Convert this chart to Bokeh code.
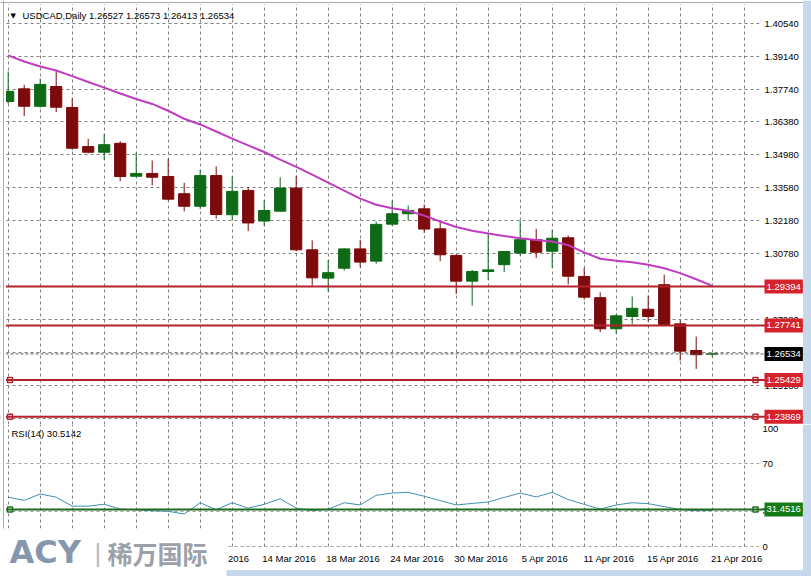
from bokeh.plotting import figure
from bokeh.models import (Range1d, FixedTicker, PrintfTickFormatter, Span, Label,
                          ColumnDataSource, LinearAxis, BoxAnnotation, Grid)
from bokeh.layouts import column
from bokeh.embed import file_html
from bokeh.resources import INLINE

# ---------------- data ----------------
symbol = "USDCAD,Daily"
last_bar_text = ["1.26527", "1.26573", "1.26413", "1.26534"]

dates = ["19 Feb 2016", "22 Feb 2016", "23 Feb 2016", "24 Feb 2016", "25 Feb 2016",
         "26 Feb 2016", "29 Feb 2016", "1 Mar 2016", "2 Mar 2016", "3 Mar 2016",
         "4 Mar 2016", "7 Mar 2016", "8 Mar 2016", "9 Mar 2016", "10 Mar 2016",
         "11 Mar 2016", "14 Mar 2016", "15 Mar 2016", "16 Mar 2016", "17 Mar 2016",
         "18 Mar 2016", "21 Mar 2016", "22 Mar 2016", "23 Mar 2016", "24 Mar 2016",
         "25 Mar 2016", "28 Mar 2016", "29 Mar 2016", "30 Mar 2016", "31 Mar 2016",
         "1 Apr 2016", "4 Apr 2016", "5 Apr 2016", "6 Apr 2016", "7 Apr 2016",
         "8 Apr 2016", "11 Apr 2016", "12 Apr 2016", "13 Apr 2016", "14 Apr 2016",
         "15 Apr 2016", "18 Apr 2016", "19 Apr 2016", "20 Apr 2016", "21 Apr 2016"]

opens = [1.3724, 1.3778, 1.3704, 1.3788, 1.3699, 1.3533, 1.3509, 1.3547, 1.3407, 1.3419,
         1.3406, 1.3333, 1.3280, 1.3410, 1.3244, 1.3347, 1.3217, 1.3259, 1.3357, 1.3095,
         1.2975, 1.3017, 1.3099, 1.3047, 1.3204, 1.3248, 1.3269, 1.3184, 1.3071, 1.2962,
         1.3003, 1.3032, 1.3081, 1.3138, 1.3089, 1.3146, 1.2982, 1.2892, 1.2760, 1.2812,
         1.2843, 1.2947, 1.2781, 1.2668, 1.26527]
highs = [1.3852, 1.3795, 1.3821, 1.3856, 1.3738, 1.3566, 1.3587, 1.3556, 1.3507, 1.3474,
         1.3481, 1.3379, 1.3435, 1.3449, 1.3406, 1.3361, 1.3307, 1.3403, 1.3410, 1.3135,
         1.3053, 1.3102, 1.3138, 1.3215, 1.3304, 1.3283, 1.3287, 1.3215, 1.3076, 1.3010,
         1.3162, 1.3090, 1.3219, 1.3184, 1.3180, 1.3156, 1.3019, 1.2915, 1.2824, 1.2897,
         1.2901, 1.2990, 1.2795, 1.2727, 1.26573]
lows = [1.3716, 1.3662, 1.3698, 1.3679, 1.3519, 1.3504, 1.3477, 1.3386, 1.3403, 1.3368,
        1.3304, 1.3258, 1.3269, 1.3227, 1.3222, 1.3175, 1.3198, 1.3257, 1.3089, 1.2942,
        1.2918, 1.3007, 1.3021, 1.3036, 1.3198, 1.3219, 1.3167, 1.3047, 1.2908, 1.2858,
        1.2967, 1.3000, 1.3071, 1.3060, 1.3019, 1.2948, 1.2883, 1.2746, 1.2739, 1.2778,
        1.2791, 1.2774, 1.2625, 1.2590, 1.26413]
closes = [1.3767, 1.3704, 1.3797, 1.3700, 1.3526, 1.3509, 1.3541, 1.3406, 1.3419, 1.3403,
          1.3310, 1.3280, 1.3410, 1.3245, 1.3343, 1.3209, 1.3262, 1.3357, 1.3095, 1.2976,
          1.2998, 1.3099, 1.3043, 1.3203, 1.3248, 1.3262, 1.3183, 1.3074, 1.2962, 1.3003,
          1.3010, 1.3088, 1.3138, 1.3085, 1.3144, 1.2983, 1.2894, 1.2760, 1.2815, 1.2847,
          1.2812, 1.2778, 1.2665, 1.2650, 1.26534]
ma = [1.3920, 1.3894, 1.3873, 1.3856, 1.3832, 1.3807, 1.3783, 1.3758, 1.3735, 1.3714,
      1.3685, 1.3651, 1.3627, 1.3597, 1.3567, 1.3538, 1.3510, 1.3478, 1.3447, 1.3414,
      1.3380, 1.3346, 1.3312, 1.3286, 1.3271, 1.3261, 1.3240, 1.3215, 1.3192, 1.3176,
      1.3164, 1.3154, 1.3144, 1.3137, 1.3130, 1.3115, 1.3084, 1.3057, 1.3049, 1.3042,
      1.3032, 1.3017, 1.2996, 1.2970, 1.2942]
rsi = [41.8, 39.1, 44.5, 41.8, 34.2, 34.2, 35.8, 31.7, 31.1, 30.3,
       29.8, 27.6, 37.1, 31.1, 37.1, 32.5, 35.8, 40.4, 32.5, 30.3,
       31.7, 37.1, 35.2, 43.4, 45.3, 45.9, 42.6, 38.9, 35.2, 36.5,
       37.7, 41.6, 45.3, 42.0, 45.9, 39.8, 35.7, 31.7, 35.2, 37.1,
       36.3, 33.8, 31.4, 30.3, 30.5142]
rsi_period = 14

price_ticks = [1.40540, 1.39140, 1.37740, 1.36380, 1.34980, 1.33580, 1.32180, 1.30780,
               1.29380, 1.27980, 1.26580, 1.25180, 1.23780]
rsi_ticks = [0, 30, 70, 100]
rsi_grid_levels = [0, 30, 70]
plain_levels = [1.29394, 1.27741]
marked_levels = [1.25429, 1.23869]
bid_price = 1.26534
rsi_level = 31.4516

# ---------------- layout / style ----------------
FONT = "Liberation Sans"
FS = "9.5px"
BULL = "#0e6a16"
BEAR = "#7d0b0b"
LEVEL_RED = "#b3232b"
BOX_RED = "#d4232b"
MA_COL = "#c03cc0"
RSI_COL = "#3f8fb5"
LEVEL_GREEN = "#1d6b1d"
BOX_GREEN = "#167a16"
GRID_COL = "#808080"
FRAME_COL = "#a3abb6"
WIN_BLUE = "#c6d9ec"

W = 811
MAIN_H = 424
RSI_H = 152
BAR_PX = 16.0
X_ORIGIN = 7.7          # pixel of the first bar centre
PX_PER_PRICE = 2357.0
PRICE_REF, PRICE_REF_PX = 1.29394, 286.0
RSI_PXU = 1.18
RSI_ZERO_PX = 546.0     # page pixel of RSI 0
LABEL_SHIFT = 1.55


def sx(px):  # picture pixel -> bar coordinate (annotation placement)
    return (px - X_ORIGIN) / BAR_PX


def sp(py):  # picture pixel -> price coordinate
    return PRICE_REF - (py - PRICE_REF_PX) / PX_PER_PRICE


def sr(py):  # picture pixel -> RSI coordinate
    return (RSI_ZERO_PX - py) / RSI_PXU


X0, X1 = sx(0), sx(W)

HAS_PAD = "padding" in Label.properties()


def box_label(fig, y, text, color):
    kw = dict(x=sx(764), y=y, text=text, text_color="white", text_font=FONT,
              text_font_size=FS, text_align="left", text_baseline="middle",
              background_fill_color=color, background_fill_alpha=1.0, level="overlay")
    if HAS_PAD:
        kw["padding"] = (2, 4)
    fig.add_layout(Label(**kw))


def style_axis(ax, standoff):
    ax.axis_line_color = None
    ax.major_tick_line_color = None
    ax.minor_tick_line_color = None
    ax.major_tick_out = 0
    ax.major_tick_in = 0
    ax.major_label_standoff = standoff
    ax.major_label_text_font = FONT
    ax.major_label_text_font_size = FS
    ax.major_label_text_color = "black"


idx = list(range(len(dates)))
grid_idx = list(range(0, len(dates) + 2, 2))
label_idx = list(range(0, len(dates), 4))

# ---------------- main price panel ----------------
p = figure(width=W, height=MAIN_H, x_range=Range1d(X0, X1),
           y_range=Range1d(sp(MAIN_H), sp(0)), output_backend="svg", toolbar_location=None,
           title=None, x_axis_location=None, y_axis_location="right",
           min_border_left=0, min_border_right=0, min_border_top=0, min_border_bottom=0,
           background_fill_color="white", border_fill_color="white", outline_line_color=None)
p.grid.visible = False
p.add_layout(Grid(dimension=0, ticker=FixedTicker(ticks=grid_idx), grid_line_color=GRID_COL,
                  grid_line_dash="3 3", grid_line_width=1))
p.add_layout(Grid(dimension=1, ticker=FixedTicker(ticks=price_ticks), grid_line_color=GRID_COL,
                  grid_line_dash="3 3", grid_line_width=1))
p.add_layout(BoxAnnotation(left=sx(759), fill_color="white", fill_alpha=1.0, line_color=None,
                           level="underlay"))

ya = p.yaxis[0]
ya.ticker = FixedTicker(ticks=price_ticks)
ya.formatter = PrintfTickFormatter(format="%.5f")
ya.fixed_location = sx(758)
style_axis(ya, 6)

src = ColumnDataSource(dict(
    x=idx, high=highs, low=lows,
    top=[max(o, c) for o, c in zip(opens, closes)],
    bottom=[min(o, c) for o, c in zip(opens, closes)],
    color=[BULL if c >= o else BEAR for o, c in zip(opens, closes)],
))
p.segment(x0="x", y0="high", x1="x", y1="low", line_color="color", line_width=1, source=src)
p.vbar(x="x", width=0.7, top="top", bottom="bottom", fill_color="color",
       line_color="color", line_width=1, source=src)
p.line(idx, ma, line_color=MA_COL, line_width=2)

for lv in plain_levels + marked_levels:
    p.add_layout(Span(location=lv, dimension="width", line_color=LEVEL_RED, line_width=2))
p.add_layout(Span(location=bid_price, dimension="width", line_color="#5a5a5a",
                  line_dash="3 2", line_width=1))
mx, my = [], []
for lv in marked_levels:
    mx += [sx(9.5), sx(755)]
    my += [lv, lv]
p.scatter(mx, my, marker="square", size=5, fill_color="white", line_color=LEVEL_RED,
          line_width=1.5)

# window edges
p.add_layout(BoxAnnotation(right=sx(5.5), fill_color="white", fill_alpha=1.0, line_color=None))
p.add_layout(BoxAnnotation(bottom=sp(3.5), fill_color="white", fill_alpha=1.0, line_color=None))
p.add_layout(Span(location=sx(3), dimension="height", line_color=FRAME_COL, line_width=1))
p.add_layout(Span(location=sp(2), dimension="width", line_color=FRAME_COL, line_width=1))

for lv in plain_levels + marked_levels:
    box_label(p, lv, f"{lv:.5f}", BOX_RED)
box_label(p, bid_price, f"{bid_price:.5f}", "black")

p.add_layout(Label(x=sx(10), y=sp(15), text="\u25bc", text_font="DejaVu Sans",
                   text_font_size="7px", text_color="black", text_baseline="middle"))
p.add_layout(Label(x=sx(22), y=sp(15), text=symbol + "  " + " ".join(last_bar_text),
                   text_font=FONT, text_font_size=FS, text_color="black",
                   text_baseline="middle"))
p.add_layout(BoxAnnotation(left=sx(802.5), fill_color=WIN_BLUE, fill_alpha=1.0,
                           line_color=None, level="overlay"))

# ---------------- RSI panel ----------------
r = figure(width=W, height=RSI_H, x_range=p.x_range,
           y_range=Range1d(sr(MAIN_H + RSI_H), sr(MAIN_H)), output_backend="svg",
           toolbar_location=None, title=None, x_axis_location=None, y_axis_location="right",
           min_border_left=0, min_border_right=0, min_border_top=0, min_border_bottom=0,
           background_fill_color="white", border_fill_color="white", outline_line_color=None)
r.grid.visible = False
r.add_layout(Grid(dimension=0, ticker=FixedTicker(ticks=grid_idx), grid_line_color=GRID_COL,
                  grid_line_dash="3 3", grid_line_width=1))
r.add_layout(Grid(dimension=1, ticker=FixedTicker(ticks=rsi_grid_levels),
                  grid_line_color="#a0a0a0", grid_line_dash="3 3", grid_line_width=1))
r.add_layout(BoxAnnotation(left=sx(759), fill_color="white", fill_alpha=1.0, line_color=None,
                           level="underlay"))
r.add_layout(BoxAnnotation(top=sr(548.5), fill_color="white", fill_alpha=1.0, line_color=None,
                           level="underlay"))

ra = r.yaxis[0]
ra.ticker = FixedTicker(ticks=rsi_ticks)
ra.fixed_location = sx(758)
style_axis(ra, 4)

r.extra_x_ranges = {"lab": Range1d(X0 - LABEL_SHIFT, X1 - LABEL_SHIFT)}
xa = LinearAxis(x_range_name="lab", ticker=FixedTicker(ticks=label_idx),
                major_label_overrides={i: dates[i] for i in label_idx})
xa.fixed_location = sr(548)
style_axis(xa, 4)
r.add_layout(xa, "below")

r.line(idx, rsi, line_color=RSI_COL, line_width=1)
r.add_layout(Span(location=rsi_level, dimension="width", line_color=LEVEL_GREEN, line_width=2))
r.scatter([sx(9.5), sx(755)], [rsi_level, rsi_level], marker="square", size=5,
          fill_color="white", line_color=LEVEL_GREEN, line_width=1.5)

r.add_layout(BoxAnnotation(right=sx(5.5), fill_color="white", fill_alpha=1.0, line_color=None))
r.add_layout(Span(location=sx(3), dimension="height", line_color=FRAME_COL, line_width=1))

r.add_layout(Label(x=sx(11), y=sr(433), text=f"RSI({rsi_period}) {rsi[-1]:.4f}",
                   text_font=FONT, text_font_size=FS, text_color="black",
                   text_baseline="middle"))
box_label(r, rsi_level, f"{rsi_level:.4f}", BOX_GREEN)

# logo
r.add_layout(BoxAnnotation(right=sx(226), top=sr(528), fill_color="white", fill_alpha=1.0,
                           line_color=None, level="overlay"))
r.add_layout(Label(x=sx(9), y=sr(551.5), text="ACY", text_font="DejaVu Sans",
                   text_font_style="bold", text_font_size="32px", text_color="#8796af",
                   text_baseline="middle", level="overlay"))
r.add_layout(Label(x=sx(94), y=sr(552), text="|", text_font=FONT,
                   text_font_size="26px", text_color="#b5bac2", text_baseline="middle",
                   level="overlay"))
r.add_layout(Label(x=sx(107), y=sr(552), text="稀万国际", text_font="Noto Sans CJK SC",
                   text_font_style="bold", text_font_size="25px", text_color="#9ca0a7",
                   text_baseline="middle", level="overlay"))
r.add_layout(BoxAnnotation(left=sx(802.5), fill_color=WIN_BLUE, fill_alpha=1.0,
                           line_color=None, level="overlay"))
r.add_layout(BoxAnnotation(left=sx(226), top=sr(569.5), fill_color=WIN_BLUE, fill_alpha=1.0,
                           line_color=None, level="overlay"))

layout = column(p, r)

open("out.html", "w").write(file_html(layout, INLINE))
